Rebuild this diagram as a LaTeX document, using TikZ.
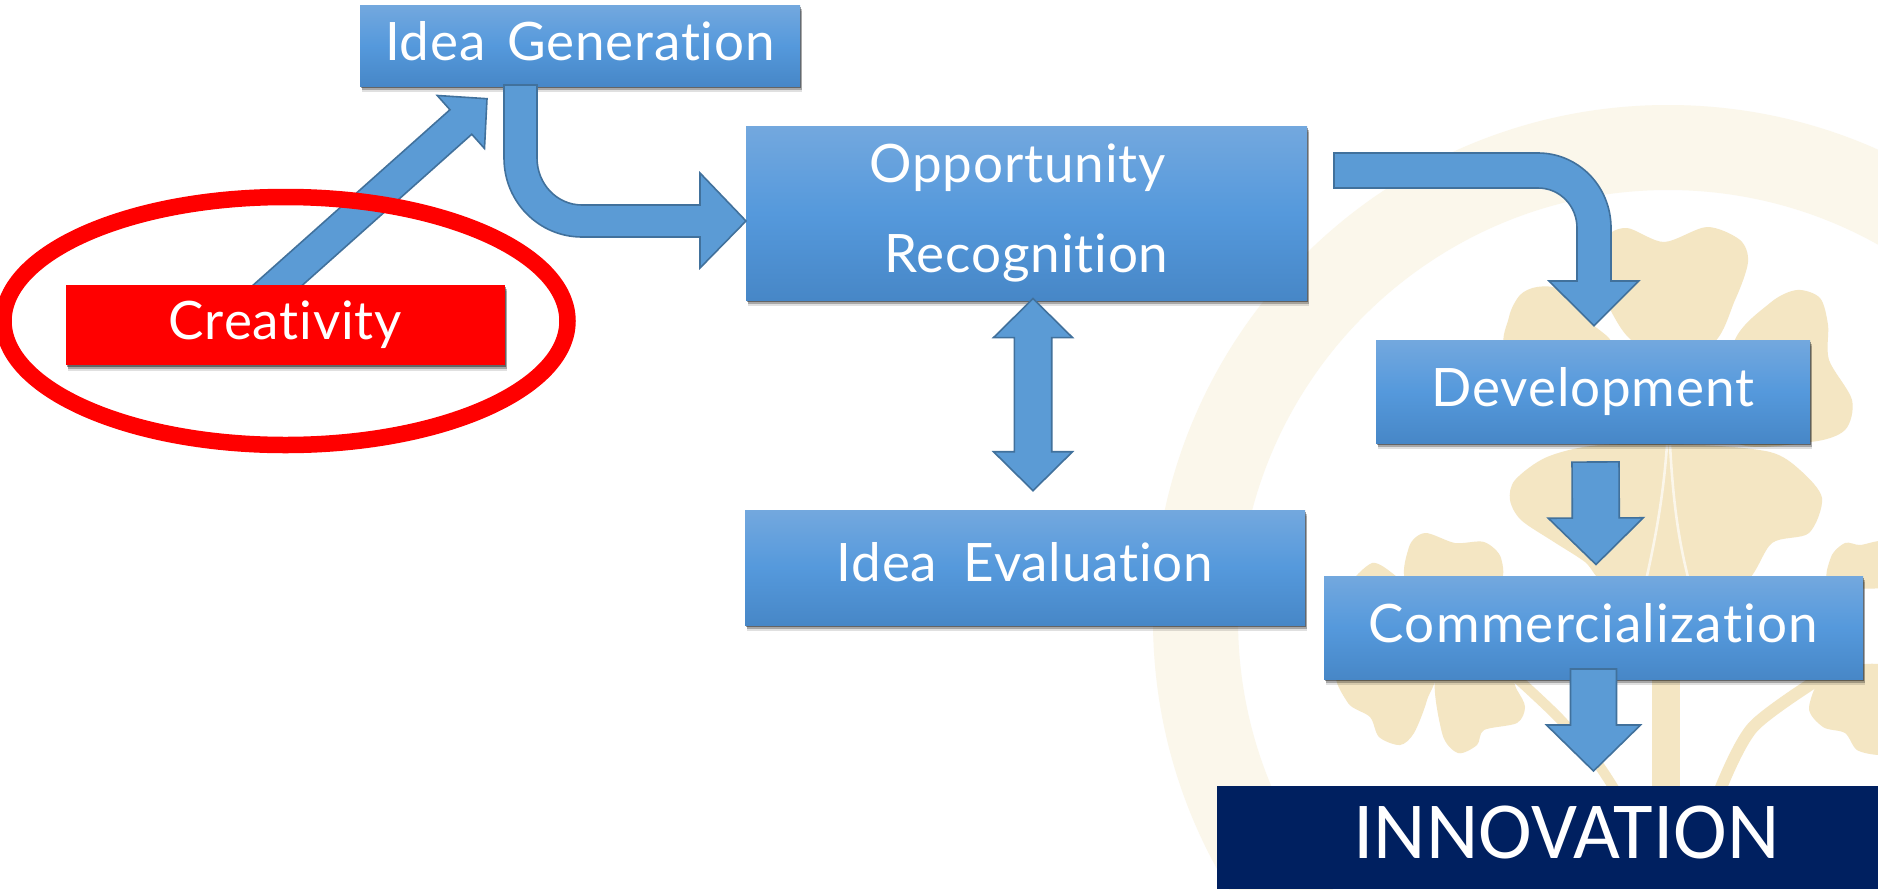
\documentclass[tikz,border=0pt]{standalone}
\usepackage{fontspec}
\setmainfont{Lato}[Ligatures=NoCommon,LetterSpace=1.6]
\newfontfamily\bigfont{Carlito}
\usetikzlibrary{calc,shadows,shapes.geometric}
\definecolor{arrowfill}{HTML}{5B9BD5}
\definecolor{arrowline}{HTML}{41719C}
\definecolor{boxtop}{HTML}{73A8DE}
\definecolor{boxmid}{HTML}{5599DC}
\definecolor{boxbot}{HTML}{4787C7}
\definecolor{ringtan}{HTML}{FBF7EB}
\definecolor{leaftan}{HTML}{F4E6C3}
\definecolor{navy}{HTML}{002060}
\pgfdeclarelayer{back}
\pgfsetlayers{back,main}
\tikzset{
  x=1pt,y=-1pt,
  boxshadow/.style={
    general shadow={shadow xshift=2pt,shadow yshift=-6pt,fill=black,opacity=.12},
    general shadow={shadow xshift=1.5pt,shadow yshift=-4pt,fill=black,opacity=.25},
    general shadow={shadow xshift=1pt,shadow yshift=-2pt,fill=black,opacity=.4}},
  flowbox/.style={rectangle,inner sep=0pt,outer sep=0pt,text=white,align=center,
    font=\fontsize{53}{90}\selectfont,boxshadow,
    top color=boxtop,bottom color=boxbot,middle color=boxmid},
  redbox/.style={rectangle,inner sep=0pt,outer sep=0pt,text=white,align=center,
    font=\fontsize{53}{90}\selectfont,boxshadow,fill=red},
  navybox/.style={rectangle,inner sep=0pt,outer sep=0pt,text=white,align=center,
    font=\bigfont\fontsize{81}{90}\selectfont,fill=navy},
  blockarrow/.style={fill=arrowfill,draw=arrowline,line width=1.6pt,line join=miter},
  leaf/.style={fill=leaftan,draw=none},
  stemline/.style={draw=leaftan,line cap=butt,line join=round},
  veinline/.style={draw=white!65!leaftan,line width=2.6pt},
}
% straight block arrow from coordinate #1 to tip #2: half shaft, half head, head length
\newcommand\blockone[5]{%
  \coordinate (nk) at ($(#2)!#5!(#1)$);
  \draw[blockarrow] ($(#1)!#3!90:(#2)$) -- ($(nk)!#3!90:(#2)$) -- ($(nk)!#4!90:(#2)$) -- (#2)
    -- ($(nk)!#4!-90:(#2)$) -- ($(nk)!#3!-90:(#2)$) -- ($(#1)!#3!-90:(#2)$) -- cycle;
}
\newcommand\blocktwo[5]{%
  \coordinate (nk) at ($(#2)!#5!(#1)$);
  \coordinate (nl) at ($(#1)!#5!(#2)$);
  \draw[blockarrow] (#1) -- ($(nl)!#4!-90:(#2)$) -- ($(nl)!#3!-90:(#2)$) -- ($(nk)!#3!-90:(#2)$)
    -- ($(nk)!#4!-90:(#2)$) -- (#2) -- ($(nk)!#4!90:(#2)$) -- ($(nk)!#3!90:(#2)$)
    -- ($(nl)!#3!90:(#2)$) -- ($(nl)!#4!90:(#2)$) -- cycle;
}
\begin{document}
\begin{tikzpicture}
\useasboundingbox (0,0) rectangle (1878,889);
\begin{pgfonlayer}{back}
  \fill[white] (0,0) rectangle (1878,889);
  % watermark
  \fill[ringtan,even odd rule] (1668,620) circle[radius=515pt] (1668,620) circle[radius=430pt];
  \fill[leaf] plot[smooth cycle] coordinates {(1640,345) (1612,313) (1598,270) (1605,238) (1627,228) (1664,242) (1707,227) (1740,240) (1748,262) (1735,300) (1710,345)};
  \fill[leaf] plot[smooth cycle] coordinates {(1510,350) (1509,317) (1520,295) (1537,287) (1560,290) (1590,322) (1608,345)};
  \fill[leaf] plot[smooth cycle] coordinates {(1733,345) (1770,303) (1797,290) (1820,298) (1828,325) (1829,360) (1852,400) (1845,430) (1810,442) (1733,440)};
  \fill[leaf] plot[smooth cycle] coordinates {(1600,445) (1547,457) (1515,480) (1510,500) (1521,520) (1554,542) (1585,562) (1610,585) (1690,585) (1745,582) (1772,543) (1809,533) (1822,498) (1800,470) (1770,452) (1700,445)};
  \draw[veinline] (1667,445) .. controls (1663,500) and (1655,540) .. (1645,585);
  \draw[veinline] (1670,445) .. controls (1673,500) and (1678,540) .. (1690,585);
  \fill[leaf] (1652,670) rectangle (1680,786);
  \draw[stemline,line width=10pt] plot[smooth] coordinates {(1510,672) (1558,717) (1595,760) (1615,790)};
  \draw[stemline,line width=12pt] plot[smooth] coordinates {(1825,675) (1753,727) (1720,790)};
  \fill[leaf] plot[smooth cycle] coordinates {(1410,585) (1409,547) (1425,533) (1455,543) (1484,542) (1501,558) (1495,585)};
  \fill[leaf] plot[smooth cycle] coordinates {(1352,585) (1372,563) (1392,573) (1400,585)};
  \fill[leaf] plot[smooth cycle] coordinates {(1340,670) (1348,703) (1370,717) (1379,737) (1400,745) (1414,733) (1427,700) (1431,670)};
  \fill[leaf] plot[smooth cycle] coordinates {(1438,670) (1442,733) (1458,753) (1477,745) (1484,730) (1517,723) (1525,707) (1517,690) (1503,670)};
  \fill[leaf] plot[smooth cycle] coordinates {(1831,585) (1831,557) (1845,543) (1860,545) (1880,541) (1900,545) (1900,585)};
  \fill[leaf] plot[smooth cycle] coordinates {(1830,670) (1809,707) (1823,727) (1845,733) (1857,750) (1880,755) (1900,750) (1900,670)};
\end{pgfonlayer}

% boxes
\node[flowbox,minimum width=440pt,minimum height=81pt,text height=29pt,text depth=0pt] (gen) at (580,45.5) {Idea\hspace{7pt} Generation};
\node[flowbox,minimum width=561pt,minimum height=174pt] (opp) at (1026.5,213) {Opportunity\hspace*{18pt}\mbox{}\\Recognition};
\node[flowbox,minimum width=560pt,minimum height=115pt,text height=28pt,text depth=0pt] (eval) at (1025,567.5) {Idea\hspace{12pt} Evaluation};
\node[flowbox,minimum width=434pt,minimum height=103pt,text height=29pt,text depth=0pt] (dev) at (1593,391.5) {Development};
\node[flowbox,minimum width=539pt,minimum height=103pt,text height=30pt,text depth=0pt] (comm) at (1593.5,627.5) {\addfontfeature{LetterSpace=2.4}Commercialization};
\node[redbox,minimum width=439pt,minimum height=80pt,text height=28pt,text depth=0pt] (crea) at (285.5,325) {Creativity};
\node[navybox,minimum width=661pt,minimum height=103pt,text height=42pt,text depth=0pt] (inn) at (1547.5,837.5) {\hspace*{38pt}INNOVATION};

% diagonal arrow and red ellipse lie behind the Creativity box
\begin{pgfonlayer}{back}
  \coordinate (diagA) at ([xshift=-30pt,yshift=-20pt]crea.north);
  \coordinate (diagB) at ([xshift=-93pt,yshift=-12.7pt]gen.south);
  \blockone{diagA}{diagB}{16.4pt}{35.5pt}{35pt}
  \node[ellipse,draw=red,line width=16.5pt,minimum width=564pt,minimum height=248pt,inner sep=0pt,outer sep=0pt] (halo) at (285.5,321) {};
\end{pgfonlayer}

% Idea Generation -> Opportunity Recognition
\coordinate (bentA) at ([xshift=-76pt,yshift=1pt]gen.south);
\draw[blockarrow,shift={(bentA)}] (0,0) -- (0,73) .. controls (0,117) and (35,152) .. (78,152)
  -- (196,152) -- (196,183) -- (242,136) -- (196,88) -- (196,120) -- (78,120)
  .. controls (53,120) and (33,99) .. (33,73) -- (33,0) -- cycle;
% Opportunity Recognition -> Development
\coordinate (bentB) at ([xshift=27pt,yshift=60pt]opp.east);
\draw[blockarrow,shift={(bentB)}] (0,0) -- (204,0) .. controls (244,0) and (277,33) .. (277,75)
  -- (277,128) -- (304.6,128) -- (260,172.7) -- (215,128) -- (243,128) -- (243,75)
  .. controls (243,53) and (226,35) .. (204,35) -- (0,35) -- cycle;
% Opportunity Recognition <-> Idea Evaluation
\coordinate (twoA) at ([xshift=6.5pt,yshift=1.4pt]opp.south);
\coordinate (twoB) at ([xshift=8pt,yshift=19.3pt]eval.north);
\blocktwo{twoA}{twoB}{18.7pt}{39.5pt}{39pt}
% Development -> Commercialization
\coordinate (devA) at ([xshift=2.5pt,yshift=-19pt]dev.south);
\coordinate (devB) at ([xshift=2.5pt,yshift=11.5pt]comm.north);
\blockone{devA}{devB}{23.5pt}{47.5pt}{46.5pt}
% Commercialization -> INNOVATION
\coordinate (comA) at ([xshift=0pt,yshift=10pt]comm.south);
\coordinate (comB) at ([xshift=46pt,yshift=15pt]inn.north);
\blockone{comA}{comB}{23pt}{47pt}{46pt}
\end{tikzpicture}
\end{document}
